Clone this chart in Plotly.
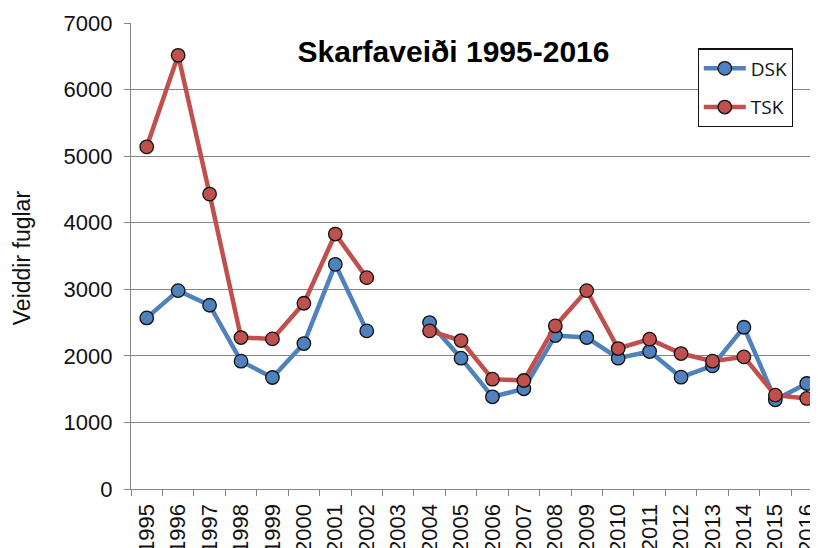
import plotly.graph_objects as go

years = [str(y) for y in range(1995, 2017)]
dsk = [2570, 2980, 2760, 1920, 1675, 2185, 3375, 2375, None, 2500, 1965, 1385, 1505,
       2305, 2275, 1965, 2065, 1680, 1850, 2430, 1340, 1585]
tsk = [5140, 6515, 4430, 2275, 2255, 2790, 3830, 3175, None, 2375, 2230, 1650, 1630,
       2450, 2980, 2110, 2250, 2035, 1920, 1985, 1410, 1360]
y_ticks = [0, 1000, 2000, 3000, 4000, 5000, 6000, 7000]

BLUE = "#4F81BD"
RED = "#C0504D"
GRID = "#868686"
FONT = "Liberation Sans, Arial, sans-serif"

# page is drawn with an 8px body margin, so the figure is offset by (8, 8)
W, H = 810, 540
PL, PT, PB = 123, 15, 59
plot_w = W - PL
plot_h = H - PT - PB

fig = go.Figure()
fig.add_trace(go.Scatter(
    x=years, y=dsk, name="DSK", mode="lines+markers", connectgaps=False,
    line=dict(color=BLUE, width=4.5),
    marker=dict(size=13.5, color=BLUE, line=dict(color="#111111", width=1.3)),
    legendgroup="a",
))
fig.add_trace(go.Scatter(
    x=years, y=tsk, name="TSK", mode="lines+markers", connectgaps=False,
    line=dict(color=RED, width=4.5),
    marker=dict(size=13.5, color=RED, line=dict(color="#111111", width=1.3)),
    legendgroup="b",
))

fig.update_layout(
    width=W, height=H,
    margin=dict(l=PL, r=0, t=PT, b=PB, autoexpand=False),
    paper_bgcolor="white", plot_bgcolor="white",
    font=dict(family=FONT, color="#111111"),
    title=dict(
        text="<b>Skarfaveiði 1995-2016</b>",
        x=445.5 / W, xref="container", xanchor="center",
        y=1 - 43.7 / H, yref="container", yanchor="middle",
        font=dict(family=FONT, size=30, color="#000000"),
    ),
    showlegend=True,
    legend=dict(
        x=(697.5 - 131) / plot_w, xanchor="left",
        y=(489.3 - 48.5) / plot_h, yanchor="top",
        bgcolor="white", bordercolor="#111111", borderwidth=1.3,
        font=dict(family="Open Sans, Noto Sans, sans-serif", size=19, color="#111111"),
        tracegroupgap=11, itemwidth=42,
    ),
    xaxis=dict(
        type="category", categoryorder="array", categoryarray=years,
        range=[-0.5, -0.5 + plot_w / 31.43],
        showgrid=False, showline=True, linecolor=GRID, linewidth=1.3,
        ticks="outside", tickson="boundaries", ticklen=6, tickcolor=GRID, tickwidth=1.3,
        tickangle=-90, tickfont=dict(family=FONT, size=22, color="#111111"),
        ticklabelstandoff=5, automargin=False, zeroline=False,
    ),
    yaxis=dict(
        range=[0, 7000], tickvals=y_ticks,
        showgrid=True, gridcolor=GRID, gridwidth=1.3,
        showline=True, linecolor=GRID, linewidth=1.3,
        ticks="outside", ticklen=6, tickcolor=GRID, tickwidth=1.3,
        tickfont=dict(family=FONT, size=22, color="#111111"),
        ticklabelstandoff=7, automargin=False, zeroline=False,
    ),
)

fig.add_annotation(
    text="Veiddir fuglar", showarrow=False, textangle=-90,
    xref="paper", yref="paper", x=(21.5 - 131) / plot_w, y=(489.3 - 258) / plot_h,
    xanchor="center", yanchor="middle",
    font=dict(family=FONT, size=23, color="#111111"),
)

fig.write_html("out.html")
